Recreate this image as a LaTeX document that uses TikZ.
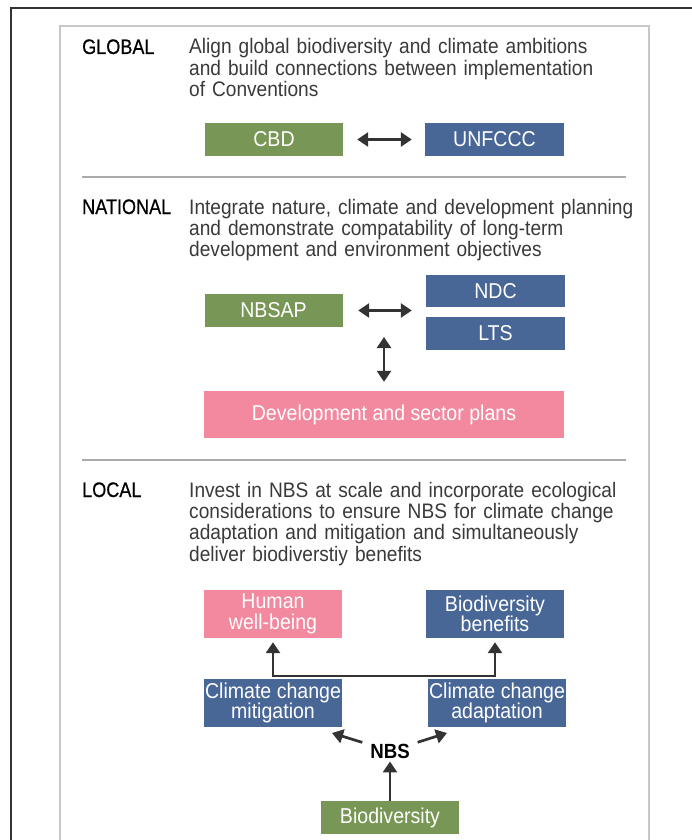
\documentclass[tikz,border=0pt]{standalone}
\usepackage{fontspec}
\setmainfont[FakeStretch=0.91]{Liberation Sans}
\newfontfamily\labelfont[FakeStretch=0.86,FakeBold=0.6]{Liberation Sans}
\usetikzlibrary{arrows.meta,calc}
\definecolor{cgreen}{HTML}{789655}
\definecolor{cblue}{HTML}{486796}
\definecolor{cpink}{HTML}{F2899E}
\definecolor{ctext}{HTML}{3A3A3A}
\definecolor{carrow}{HTML}{333333}
\begin{document}
\begin{tikzpicture}[x=1pt,y=-1pt,
  body/.style={anchor=base west, inner sep=0pt, text width=470pt, align=left, text=ctext, font=\fontsize{21}{21.4}\selectfont},
  lab/.style={anchor=base west, inner sep=0pt, text=black, font=\labelfont\fontsize{21}{21.4}\selectfont},
  box/.style={minimum width=138pt, minimum height=33pt, inner sep=0pt, text=white, align=center, font=\fontsize{21.5}{20.5}\selectfont},
  tall/.style={box, minimum height=48pt},
  divider/.style={line width=2.5pt, draw=black!33},
  arr/.style={draw=carrow, line width=2.7pt, -{Triangle[length=11pt,width=14pt]}},
  dblarr/.style={draw=carrow, line width=2.7pt, {Triangle[length=11pt,width=14pt]}-{Triangle[length=11pt,width=14pt]}}
]
\fill[white] (0,0) rectangle (691,840);
\useasboundingbox (0,0) rectangle (691,840);
% frames
\draw[line width=2pt, black!80] (11,842) -- (11,8) -- (693,8);
\draw[line width=1.5pt, black!22] (60,842) -- (60,26) -- (649,26) -- (649,842);
\draw[divider] (82,177) -- (626,177);
\draw[divider] (82,460) -- (626,460);

% GLOBAL
\node[lab] (lglobal) at (82,54) {GLOBAL};
\node[body] (tglobal) at (189,54) {Align global biodiversity and climate ambitions\\and build connections between implementation\\of Conventions};
\node[box, fill=cgreen] (cbd) at (274,139.5) {CBD};
\node[box, fill=cblue, minimum width=139pt] (unf) at (494.5,139.5) {UNFCCC};
\draw[dblarr, shorten <=14pt, shorten >=13pt] (cbd.east) -- (unf.west);

% NATIONAL
\node[lab] (lnat) at (82,214) {NATIONAL};
\node[body] (tnat) at (189,214) {Integrate nature, climate and development planning\\and demonstrate compatability of long-term\\development and environment objectives};
\node[box, fill=cgreen] (nbsap) at (273.5,310.5) {NBSAP};
\node[box, fill=cblue, minimum width=139pt, minimum height=32pt] (ndc) at (495.5,291) {NDC};
\node[box, fill=cblue, minimum width=139pt] (lts) at (495.5,333.5) {LTS};
\node[box, fill=cpink, minimum width=360pt, minimum height=47pt] (dev) at (384,414.5) {Development and sector plans};
\coordinate (hub) at (384,311);
\draw[dblarr, shorten <=15.5pt, shorten >=14pt] (nbsap.east) -- (nbsap.east -| lts.west);
\draw[dblarr, shorten <=26pt, shorten >=9pt] (hub) -- (dev.north);

% LOCAL
\node[lab] (lloc) at (82,497) {LOCAL};
\node[body] (tloc) at (189,497) {Invest in NBS at scale and incorporate ecological\\considerations to ensure NBS for climate change\\adaptation and mitigation and simultaneously\\deliver biodiverstiy benefits};
\node[tall, fill=cpink] (human) at (273,614) {Human\\well-being};
\node[tall, fill=cblue] (benef) at (495,614) {Biodiversity\\benefits};
\node[tall, fill=cblue] (mit) at (273,703) {Climate change\\mitigation};
\node[tall, fill=cblue] (adapt) at (497,703) {Climate change\\adaptation};
\node[inner sep=0pt, font=\bfseries\fontsize{20.5}{21}\selectfont, text=black] (nbs) at (390,751) {NBS};
\node[box, fill=cgreen] (bio) at (390,817.5) {Biodiversity};
\coordinate (bar) at (273,676);
\coordinate (tipL) at (332,733);
\coordinate (tipR) at (447,733);
\draw[dblarr, line join=miter, shorten <=4pt, shorten >=4pt] (human.south) -- (human.south |- bar) -| (benef.south);
\draw[arr, shorten <=29pt] (nbs.center) -- (tipL);
\draw[arr, shorten <=29pt] (nbs.center) -- (tipR);
\draw[arr, shorten >=3pt] (bio.north) -- (nbs.south);
\end{tikzpicture}
\end{document}
